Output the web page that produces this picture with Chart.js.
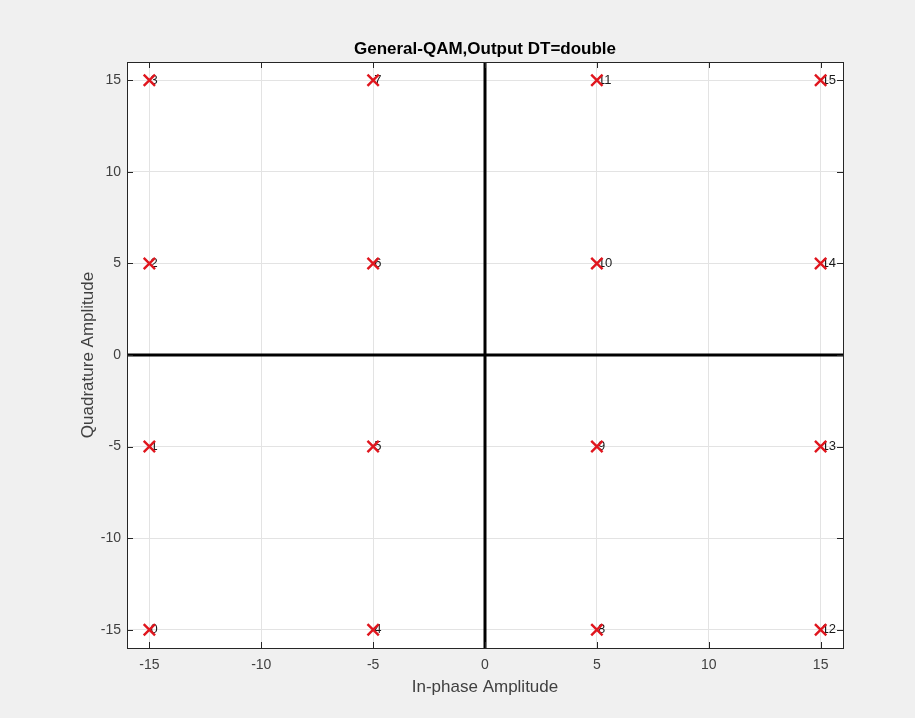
<!DOCTYPE html>
<html>
<head>
<meta charset="utf-8">
<script src="https://cdn.jsdelivr.net/npm/chart.js@4/dist/chart.umd.min.js"></script>
<style>
  html, body { margin: 0; padding: 0; background: #f0f0f0; }
  #wrap { width: 915px; height: 718px; }
</style>
</head>
<body>
<div id="wrap"><canvas id="c" width="915" height="718"></canvas></div>
<script>
// 16-QAM constellation points (in-phase / quadrature) and their symbol indices
const inphase    = [-15, -15, -15, -15, -5, -5, -5, -5, 5, 5, 5, 5, 15, 15, 15, 15];
const quadrature = [-15, -5, 5, 15, -15, -5, 5, 15, -15, -5, 5, 15, -15, -5, 5, 15];
const symbolLabels = ['0','1','2','3','4','5','6','7','8','9','10','11','12','13','14','15'];

// Axis limits and tick values
const axisLimits = [-16, 16];
const tickValues = [-15, -10, -5, 0, 5, 10, 15];
const plotTitle = 'General-QAM,Output DT=double';

const FONT = "'Liberation Sans', Arial, Helvetica, sans-serif";
const points = inphase.map((x, i) => ({ x: x, y: quadrature[i] }));

// Title centred over the plot area
const titlePlugin = {
  id: 'axesTitle',
  afterDraw(chart) {
    const { ctx, chartArea: a } = chart;
    ctx.save();
    ctx.font = 'bold 17px ' + FONT;
    ctx.fillStyle = '#000000';
    ctx.textAlign = 'center';
    ctx.textBaseline = 'middle';
    ctx.fillText(plotTitle, (a.left + a.right) / 2, a.top - 13);
    ctx.restore();
  }
};

// Symbol index text beside each constellation point (drawn beneath the markers)
const symbolTextPlugin = {
  id: 'symbolText',
  beforeDatasetsDraw(chart) {
    const { ctx, scales } = chart;
    ctx.save();
    ctx.font = '13px ' + FONT;
    ctx.fillStyle = '#1a1a1a';
    ctx.textAlign = 'left';
    ctx.textBaseline = 'middle';
    symbolLabels.forEach((lab, i) => {
      const px = scales.x.getPixelForValue(inphase[i]);
      const py = scales.y.getPixelForValue(quadrature[i]);
      ctx.fillText(lab, px + 1, py);
    });
    ctx.restore();
  }
};

// Axes box with inward tick marks on all four sides
const boxPlugin = {
  id: 'axesBox',
  afterDatasetsDraw(chart) {
    const { ctx, chartArea: a, scales } = chart;
    const len = 6;
    ctx.save();
    ctx.strokeStyle = '#262626';
    ctx.lineWidth = 1;
    ctx.beginPath();
    tickValues.forEach(v => {
      const px = Math.round(scales.x.getPixelForValue(v)) + 0.5;
      ctx.moveTo(px, a.bottom); ctx.lineTo(px, a.bottom - len);
      ctx.moveTo(px, a.top); ctx.lineTo(px, a.top + len);
      const py = Math.round(scales.y.getPixelForValue(v)) + 0.5;
      ctx.moveTo(a.left, py); ctx.lineTo(a.left + len, py);
      ctx.moveTo(a.right, py); ctx.lineTo(a.right - len, py);
    });
    ctx.stroke();
    ctx.strokeRect(Math.round(a.left) + 0.5, Math.round(a.top) + 0.5,
                   Math.round(a.right - a.left), Math.round(a.bottom - a.top));
    ctx.restore();
  }
};

// White plot area on the grey figure background
const plotBgPlugin = {
  id: 'plotBg',
  beforeDraw(chart) {
    const { ctx, chartArea: a } = chart;
    ctx.save();
    ctx.fillStyle = '#ffffff';
    ctx.fillRect(a.left, a.top, a.right - a.left, a.bottom - a.top);
    ctx.restore();
  }
};

const fixedTicks = axis => { axis.ticks = tickValues.map(v => ({ value: v })); };

new Chart(document.getElementById('c'), {
  type: 'scatter',
  data: {
    datasets: [
      {
        label: 'Symbols',
        data: points,
        pointStyle: 'crossRot',
        pointRadius: 8,
        pointHoverRadius: 8,
        pointBorderWidth: 2.4,
        borderColor: '#e0161e',
        backgroundColor: '#e0161e',
        order: 0
      },
      {
        label: 'I axis',
        data: [{ x: axisLimits[0], y: 0 }, { x: axisLimits[1], y: 0 }],
        showLine: true,
        borderColor: '#000000',
        borderWidth: 3,
        pointRadius: 0,
        order: 1
      },
      {
        label: 'Q axis',
        data: [{ x: 0, y: axisLimits[0] }, { x: 0, y: axisLimits[1] }],
        showLine: true,
        borderColor: '#000000',
        borderWidth: 3,
        pointRadius: 0,
        order: 1
      }
    ]
  },
  options: {
    responsive: false,
    animation: false,
    events: [],
    layout: { padding: { left: 0, right: 72, top: 62, bottom: 0 } },
    plugins: {
      legend: { display: false },
      tooltip: { enabled: false },
      title: { display: false }
    },
    scales: {
      x: {
        type: 'linear',
        min: axisLimits[0],
        max: axisLimits[1],
        afterBuildTicks: fixedTicks,
        afterFit: s => { s.height = 70; },
        grid: { color: '#e3e3e3', drawTicks: false, lineWidth: 1 },
        border: { display: false },
        ticks: { color: '#404040', font: { family: FONT, size: 14 }, padding: 9, maxRotation: 0 },
        title: {
          display: true,
          text: 'In-phase Amplitude',
          color: '#404040',
          font: { family: FONT, size: 17 },
          padding: { top: 0, bottom: 20 }
        }
      },
      y: {
        type: 'linear',
        min: axisLimits[0],
        max: axisLimits[1],
        afterBuildTicks: fixedTicks,
        afterFit: s => { s.width = 127; },
        grid: { color: '#e3e3e3', drawTicks: false, lineWidth: 1 },
        border: { display: false },
        ticks: { color: '#404040', font: { family: FONT, size: 14 }, padding: 6 },
        title: {
          display: true,
          text: 'Quadrature Amplitude',
          color: '#404040',
          font: { family: FONT, size: 17 },
          padding: { top: 78, bottom: 0 }
        }
      }
    }
  },
  plugins: [plotBgPlugin, symbolTextPlugin, boxPlugin, titlePlugin]
});
</script>
</body>
</html>
